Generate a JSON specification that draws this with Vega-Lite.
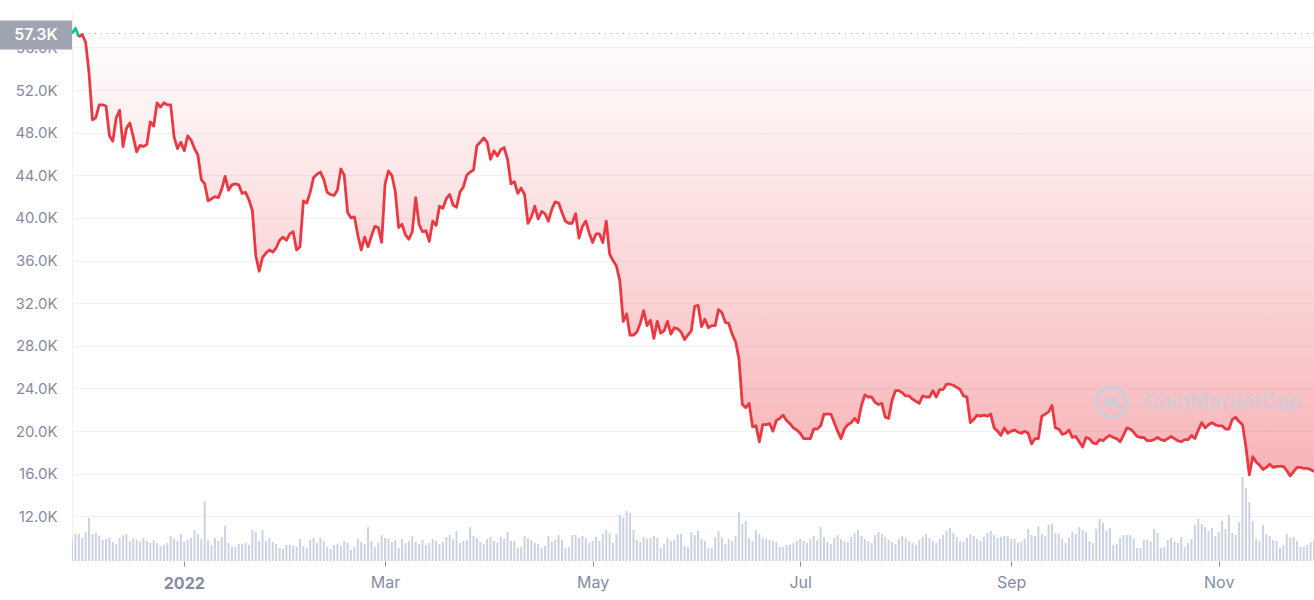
{
"$schema":"https://vega.github.io/schema/vega-lite/v6.json",
"width":1242,"height":551,
"autosize":{"type":"none"},
"padding":{"left":72,"top":10,"right":0,"bottom":39},
"background":"#ffffff",
"config":{"view":{"stroke":null},"font":"Inter"},
"data":{"values":[
{"t":"2021-11-29","p":57300,"v":23},{"t":"2021-11-30","p":57800,"v":27},
{"t":"2021-12-01","p":57000,"v":27},{"t":"2021-12-02","p":57200,"v":23},{"t":"2021-12-03","p":56500,"v":29},{"t":"2021-12-04","p":53600,"v":43},{"t":"2021-12-05","p":49200,"v":27},{"t":"2021-12-06","p":49400,"v":28},{"t":"2021-12-07","p":50600,"v":25},{"t":"2021-12-08","p":50600,"v":21},{"t":"2021-12-09","p":50500,"v":22},{"t":"2021-12-10","p":47700,"v":23},{"t":"2021-12-11","p":47200,"v":19},{"t":"2021-12-12","p":49400,"v":17},{"t":"2021-12-13","p":50100,"v":23},{"t":"2021-12-14","p":46700,"v":26},{"t":"2021-12-15","p":48400,"v":27},{"t":"2021-12-16","p":48900,"v":20},{"t":"2021-12-17","p":47600,"v":23},{"t":"2021-12-18","p":46200,"v":21},{"t":"2021-12-19","p":46800,"v":19},{"t":"2021-12-20","p":46700,"v":23},{"t":"2021-12-21","p":46900,"v":20},{"t":"2021-12-22","p":49000,"v":18},{"t":"2021-12-23","p":48600,"v":21},{"t":"2021-12-24","p":50800,"v":18},{"t":"2021-12-25","p":50400,"v":15},{"t":"2021-12-26","p":50800,"v":16},{"t":"2021-12-27","p":50600,"v":18},{"t":"2021-12-28","p":50600,"v":25},{"t":"2021-12-29","p":47600,"v":22},{"t":"2021-12-30","p":46500,"v":20},{"t":"2021-12-31","p":47100,"v":27},
{"t":"2022-01-01","p":46300,"v":19},{"t":"2022-01-02","p":47700,"v":21},{"t":"2022-01-03","p":47300,"v":23},{"t":"2022-01-04","p":46500,"v":31},{"t":"2022-01-05","p":45900,"v":27},{"t":"2022-01-06","p":43600,"v":22},{"t":"2022-01-07","p":43200,"v":60},{"t":"2022-01-08","p":41600,"v":21},{"t":"2022-01-09","p":41800,"v":16},{"t":"2022-01-10","p":42000,"v":23},{"t":"2022-01-11","p":41900,"v":20},{"t":"2022-01-12","p":42700,"v":24},{"t":"2022-01-13","p":43900,"v":35},{"t":"2022-01-14","p":42600,"v":18},{"t":"2022-01-15","p":43100,"v":14},{"t":"2022-01-16","p":43200,"v":14},{"t":"2022-01-17","p":43100,"v":17},{"t":"2022-01-18","p":42300,"v":17},{"t":"2022-01-19","p":42400,"v":18},{"t":"2022-01-20","p":41700,"v":16},{"t":"2022-01-21","p":40700,"v":31},{"t":"2022-01-22","p":36500,"v":29},{"t":"2022-01-23","p":35000,"v":20},{"t":"2022-01-24","p":36300,"v":31},{"t":"2022-01-25","p":36700,"v":20},{"t":"2022-01-26","p":37000,"v":23},{"t":"2022-01-27","p":36800,"v":19},{"t":"2022-01-28","p":37200,"v":17},{"t":"2022-01-29","p":37900,"v":13},{"t":"2022-01-30","p":38200,"v":12},{"t":"2022-01-31","p":37900,"v":16},
{"t":"2022-02-01","p":38500,"v":16},{"t":"2022-02-02","p":38700,"v":15},{"t":"2022-02-03","p":37000,"v":14},{"t":"2022-02-04","p":37300,"v":22},{"t":"2022-02-05","p":41600,"v":15},{"t":"2022-02-06","p":41400,"v":13},{"t":"2022-02-07","p":42400,"v":21},{"t":"2022-02-08","p":43800,"v":23},{"t":"2022-02-09","p":44100,"v":18},{"t":"2022-02-10","p":44300,"v":23},{"t":"2022-02-11","p":43600,"v":20},{"t":"2022-02-12","p":42400,"v":14},{"t":"2022-02-13","p":42200,"v":12},{"t":"2022-02-14","p":42100,"v":16},{"t":"2022-02-15","p":42600,"v":17},{"t":"2022-02-16","p":44600,"v":15},{"t":"2022-02-17","p":44000,"v":20},{"t":"2022-02-18","p":40500,"v":18},{"t":"2022-02-19","p":40000,"v":11},{"t":"2022-02-20","p":40100,"v":14},{"t":"2022-02-21","p":38400,"v":22},{"t":"2022-02-22","p":37000,"v":19},{"t":"2022-02-23","p":38200,"v":17},{"t":"2022-02-24","p":37300,"v":34},{"t":"2022-02-25","p":38300,"v":20},{"t":"2022-02-26","p":39200,"v":14},{"t":"2022-02-27","p":39100,"v":18},{"t":"2022-02-28","p":37700,"v":26},
{"t":"2022-03-01","p":43200,"v":23},{"t":"2022-03-02","p":44400,"v":22},{"t":"2022-03-03","p":44000,"v":19},{"t":"2022-03-04","p":42500,"v":21},{"t":"2022-03-05","p":39100,"v":13},{"t":"2022-03-06","p":39400,"v":22},{"t":"2022-03-07","p":38400,"v":18},{"t":"2022-03-08","p":38000,"v":20},{"t":"2022-03-09","p":38700,"v":25},{"t":"2022-03-10","p":41900,"v":19},{"t":"2022-03-11","p":39400,"v":17},{"t":"2022-03-12","p":38700,"v":21},{"t":"2022-03-13","p":38800,"v":16},{"t":"2022-03-14","p":37800,"v":18},{"t":"2022-03-15","p":39700,"v":22},{"t":"2022-03-16","p":39300,"v":20},{"t":"2022-03-17","p":41100,"v":17},{"t":"2022-03-18","p":40900,"v":19},{"t":"2022-03-19","p":41800,"v":24},{"t":"2022-03-20","p":42200,"v":26},{"t":"2022-03-21","p":41200,"v":22},{"t":"2022-03-22","p":41000,"v":30},{"t":"2022-03-23","p":42400,"v":18},{"t":"2022-03-24","p":42900,"v":20},{"t":"2022-03-25","p":44000,"v":21},{"t":"2022-03-26","p":44300,"v":34},{"t":"2022-03-27","p":44500,"v":25},{"t":"2022-03-28","p":46800,"v":23},{"t":"2022-03-29","p":47100,"v":19},{"t":"2022-03-30","p":47500,"v":17},{"t":"2022-03-31","p":47100,"v":22},
{"t":"2022-04-01","p":45500,"v":24},{"t":"2022-04-02","p":46300,"v":20},{"t":"2022-04-03","p":45800,"v":18},{"t":"2022-04-04","p":46400,"v":24},{"t":"2022-04-05","p":46600,"v":22},{"t":"2022-04-06","p":45500,"v":29},{"t":"2022-04-07","p":43200,"v":20},{"t":"2022-04-08","p":43400,"v":20},{"t":"2022-04-09","p":42300,"v":13},{"t":"2022-04-10","p":42800,"v":14},{"t":"2022-04-11","p":42200,"v":25},{"t":"2022-04-12","p":39500,"v":23},{"t":"2022-04-13","p":40100,"v":21},{"t":"2022-04-14","p":41100,"v":18},{"t":"2022-04-15","p":39900,"v":17},{"t":"2022-04-16","p":40600,"v":13},{"t":"2022-04-17","p":40400,"v":15},{"t":"2022-04-18","p":39700,"v":25},{"t":"2022-04-19","p":40800,"v":19},{"t":"2022-04-20","p":41500,"v":21},{"t":"2022-04-21","p":41400,"v":26},{"t":"2022-04-22","p":40500,"v":21},{"t":"2022-04-23","p":39700,"v":13},{"t":"2022-04-24","p":39500,"v":14},{"t":"2022-04-25","p":39500,"v":26},{"t":"2022-04-26","p":40400,"v":26},{"t":"2022-04-27","p":38100,"v":23},{"t":"2022-04-28","p":39200,"v":25},{"t":"2022-04-29","p":39700,"v":23},{"t":"2022-04-30","p":38600,"v":18},
{"t":"2022-05-01","p":37700,"v":20},{"t":"2022-05-02","p":38500,"v":24},{"t":"2022-05-03","p":38500,"v":20},{"t":"2022-05-04","p":37700,"v":27},{"t":"2022-05-05","p":39700,"v":31},{"t":"2022-05-06","p":36600,"v":28},{"t":"2022-05-07","p":36000,"v":18},{"t":"2022-05-08","p":35500,"v":27},{"t":"2022-05-09","p":34100,"v":46},{"t":"2022-05-10","p":30300,"v":43},{"t":"2022-05-11","p":31000,"v":50},{"t":"2022-05-12","p":29000,"v":48},{"t":"2022-05-13","p":29000,"v":31},{"t":"2022-05-14","p":29300,"v":21},{"t":"2022-05-15","p":30100,"v":19},{"t":"2022-05-16","p":31300,"v":24},{"t":"2022-05-17","p":29900,"v":22},{"t":"2022-05-18","p":30400,"v":23},{"t":"2022-05-19","p":28700,"v":25},{"t":"2022-05-20","p":30300,"v":23},{"t":"2022-05-21","p":29200,"v":13},{"t":"2022-05-22","p":29400,"v":17},{"t":"2022-05-23","p":30300,"v":23},{"t":"2022-05-24","p":29100,"v":20},{"t":"2022-05-25","p":29700,"v":21},{"t":"2022-05-26","p":29600,"v":27},{"t":"2022-05-27","p":29300,"v":27},{"t":"2022-05-28","p":28600,"v":15},{"t":"2022-05-29","p":29000,"v":14},{"t":"2022-05-30","p":29400,"v":29},{"t":"2022-05-31","p":31700,"v":26},
{"t":"2022-06-01","p":31800,"v":30},{"t":"2022-06-02","p":29800,"v":22},{"t":"2022-06-03","p":30500,"v":20},{"t":"2022-06-04","p":29700,"v":13},{"t":"2022-06-05","p":29900,"v":13},{"t":"2022-06-06","p":29900,"v":24},{"t":"2022-06-07","p":31400,"v":30},{"t":"2022-06-08","p":31100,"v":23},{"t":"2022-06-09","p":30200,"v":17},{"t":"2022-06-10","p":30100,"v":22},{"t":"2022-06-11","p":29100,"v":20},{"t":"2022-06-12","p":28400,"v":25},{"t":"2022-06-13","p":26800,"v":49},{"t":"2022-06-14","p":22500,"v":37},{"t":"2022-06-15","p":22200,"v":40},{"t":"2022-06-16","p":22600,"v":23},{"t":"2022-06-17","p":20400,"v":20},{"t":"2022-06-18","p":20500,"v":31},{"t":"2022-06-19","p":19000,"v":27},{"t":"2022-06-20","p":20600,"v":23},{"t":"2022-06-21","p":20600,"v":22},{"t":"2022-06-22","p":20700,"v":21},{"t":"2022-06-23","p":20000,"v":20},{"t":"2022-06-24","p":21000,"v":19},{"t":"2022-06-25","p":21200,"v":14},{"t":"2022-06-26","p":21500,"v":14},{"t":"2022-06-27","p":21000,"v":16},{"t":"2022-06-28","p":20700,"v":16},{"t":"2022-06-29","p":20300,"v":18},{"t":"2022-06-30","p":20100,"v":20},
{"t":"2022-07-01","p":19800,"v":22},{"t":"2022-07-02","p":19300,"v":20},{"t":"2022-07-03","p":19300,"v":18},{"t":"2022-07-04","p":19300,"v":22},{"t":"2022-07-05","p":20200,"v":25},{"t":"2022-07-06","p":20200,"v":21},{"t":"2022-07-07","p":20500,"v":34},{"t":"2022-07-08","p":21600,"v":24},{"t":"2022-07-09","p":21600,"v":19},{"t":"2022-07-10","p":21600,"v":17},{"t":"2022-07-11","p":20800,"v":23},{"t":"2022-07-12","p":20000,"v":26},{"t":"2022-07-13","p":19300,"v":22},{"t":"2022-07-14","p":20200,"v":20},{"t":"2022-07-15","p":20600,"v":19},{"t":"2022-07-16","p":20800,"v":24},{"t":"2022-07-17","p":21200,"v":28},{"t":"2022-07-18","p":20800,"v":31},{"t":"2022-07-19","p":22400,"v":25},{"t":"2022-07-20","p":23400,"v":22},{"t":"2022-07-21","p":23200,"v":20},{"t":"2022-07-22","p":23200,"v":18},{"t":"2022-07-23","p":22700,"v":26},{"t":"2022-07-24","p":22500,"v":29},{"t":"2022-07-25","p":22600,"v":27},{"t":"2022-07-26","p":21300,"v":24},{"t":"2022-07-27","p":21200,"v":21},{"t":"2022-07-28","p":22900,"v":19},{"t":"2022-07-29","p":23800,"v":17},{"t":"2022-07-30","p":23800,"v":22},{"t":"2022-07-31","p":23600,"v":25},
{"t":"2022-08-01","p":23300,"v":23},{"t":"2022-08-02","p":23300,"v":20},{"t":"2022-08-03","p":23000,"v":18},{"t":"2022-08-04","p":22800,"v":16},{"t":"2022-08-05","p":22600,"v":21},{"t":"2022-08-06","p":23300,"v":24},{"t":"2022-08-07","p":23200,"v":27},{"t":"2022-08-08","p":23200,"v":23},{"t":"2022-08-09","p":23800,"v":20},{"t":"2022-08-10","p":23200,"v":18},{"t":"2022-08-11","p":23900,"v":22},{"t":"2022-08-12","p":23900,"v":26},{"t":"2022-08-13","p":24400,"v":30},{"t":"2022-08-14","p":24400,"v":33},{"t":"2022-08-15","p":24300,"v":28},{"t":"2022-08-16","p":24100,"v":24},{"t":"2022-08-17","p":23900,"v":20},{"t":"2022-08-18","p":23300,"v":19},{"t":"2022-08-19","p":23200,"v":23},{"t":"2022-08-20","p":20800,"v":27},{"t":"2022-08-21","p":21100,"v":25},{"t":"2022-08-22","p":21500,"v":22},{"t":"2022-08-23","p":21400,"v":20},{"t":"2022-08-24","p":21500,"v":24},{"t":"2022-08-25","p":21400,"v":28},{"t":"2022-08-26","p":21600,"v":30},{"t":"2022-08-27","p":20300,"v":26},{"t":"2022-08-28","p":20000,"v":23},{"t":"2022-08-29","p":19600,"v":24},{"t":"2022-08-30","p":20300,"v":25},{"t":"2022-08-31","p":19800,"v":25},
{"t":"2022-09-01","p":20000,"v":22},{"t":"2022-09-02","p":20100,"v":22},{"t":"2022-09-03","p":19900,"v":18},{"t":"2022-09-04","p":19800,"v":19},{"t":"2022-09-05","p":20000,"v":22},{"t":"2022-09-06","p":19800,"v":32},{"t":"2022-09-07","p":18800,"v":26},{"t":"2022-09-08","p":19300,"v":25},{"t":"2022-09-09","p":19300,"v":35},{"t":"2022-09-10","p":21400,"v":27},{"t":"2022-09-11","p":21600,"v":25},{"t":"2022-09-12","p":21800,"v":36},{"t":"2022-09-13","p":22400,"v":37},{"t":"2022-09-14","p":20300,"v":28},{"t":"2022-09-15","p":20200,"v":27},{"t":"2022-09-16","p":19700,"v":22},{"t":"2022-09-17","p":19800,"v":18},{"t":"2022-09-18","p":20100,"v":23},{"t":"2022-09-19","p":19400,"v":29},{"t":"2022-09-20","p":19500,"v":27},{"t":"2022-09-21","p":19000,"v":34},{"t":"2022-09-22","p":18500,"v":31},{"t":"2022-09-23","p":19400,"v":29},{"t":"2022-09-24","p":19300,"v":20},{"t":"2022-09-25","p":18900,"v":18},{"t":"2022-09-26","p":18800,"v":32},{"t":"2022-09-27","p":19200,"v":42},{"t":"2022-09-28","p":19100,"v":38},{"t":"2022-09-29","p":19400,"v":30},{"t":"2022-09-30","p":19600,"v":33},
{"t":"2022-10-01","p":19400,"v":16},{"t":"2022-10-02","p":19300,"v":17},{"t":"2022-10-03","p":19000,"v":23},{"t":"2022-10-04","p":19600,"v":26},{"t":"2022-10-05","p":20300,"v":26},{"t":"2022-10-06","p":20200,"v":26},{"t":"2022-10-07","p":19900,"v":22},{"t":"2022-10-08","p":19500,"v":13},{"t":"2022-10-09","p":19400,"v":13},{"t":"2022-10-10","p":19400,"v":21},{"t":"2022-10-11","p":19100,"v":21},{"t":"2022-10-12","p":19100,"v":19},{"t":"2022-10-13","p":19200,"v":32},{"t":"2022-10-14","p":19400,"v":28},{"t":"2022-10-15","p":19200,"v":13},{"t":"2022-10-16","p":19100,"v":14},{"t":"2022-10-17","p":19300,"v":21},{"t":"2022-10-18","p":19500,"v":23},{"t":"2022-10-19","p":19300,"v":19},{"t":"2022-10-20","p":19100,"v":18},{"t":"2022-10-21","p":19000,"v":24},{"t":"2022-10-22","p":19200,"v":14},{"t":"2022-10-23","p":19200,"v":18},{"t":"2022-10-24","p":19600,"v":22},{"t":"2022-10-25","p":19300,"v":36},{"t":"2022-10-26","p":20100,"v":42},{"t":"2022-10-27","p":20800,"v":37},{"t":"2022-10-28","p":20300,"v":34},{"t":"2022-10-29","p":20600,"v":30},{"t":"2022-10-30","p":20800,"v":33},{"t":"2022-10-31","p":20600,"v":25},
{"t":"2022-11-01","p":20500,"v":29},{"t":"2022-11-02","p":20500,"v":40},{"t":"2022-11-03","p":20200,"v":32},{"t":"2022-11-04","p":20200,"v":46},{"t":"2022-11-05","p":21100,"v":28},{"t":"2022-11-06","p":21300,"v":26},{"t":"2022-11-07","p":20900,"v":39},{"t":"2022-11-08","p":20600,"v":84},{"t":"2022-11-09","p":18500,"v":73},{"t":"2022-11-10","p":15900,"v":59},{"t":"2022-11-11","p":17600,"v":40},{"t":"2022-11-12","p":17100,"v":22},{"t":"2022-11-13","p":16800,"v":20},{"t":"2022-11-14","p":16400,"v":36},{"t":"2022-11-15","p":16600,"v":27},{"t":"2022-11-16","p":16900,"v":25},{"t":"2022-11-17","p":16600,"v":21},{"t":"2022-11-18","p":16700,"v":20},{"t":"2022-11-19","p":16700,"v":13},{"t":"2022-11-20","p":16700,"v":16},{"t":"2022-11-21","p":16300,"v":27},{"t":"2022-11-22","p":15800,"v":23},{"t":"2022-11-23","p":16200,"v":24},{"t":"2022-11-24","p":16600,"v":20},{"t":"2022-11-25","p":16600,"v":14},{"t":"2022-11-26","p":16500,"v":14},{"t":"2022-11-27","p":16500,"v":16},{"t":"2022-11-28","p":16400,"v":19},{"t":"2022-11-29","p":16200,"v":20}
]},
"layer":[
{"mark":{"type":"area","line":false,"fill":{"x1":0,"y1":0,"x2":0,"y2":1,"gradient":"linear","stops":[{"offset":0,"color":"rgba(234,57,67,0.0)"},{"offset":1,"color":"rgba(234,57,67,0.38)"}]}},
 "encoding":{
  "x":{"field":"t","type":"temporal","scale":{"type":"utc","padding":0,"domain":[1638144000000,1669680000000]},
   "axis":{"values":[1640995200000,1646092800000,1651363200000,1656633600000,1661990400000,1667260800000],
    "labelExpr":"utcmonth(datum.value)==0 ? '' : utcFormat(datum.value,'%b')",
    "title":null,"grid":false,"domain":false,"tickColor":"#858ca2","tickSize":5,
    "labelColor":"#858ca2","labelFontSize":16,"labelPadding":8,"labelFont":"Inter"}},
  "y":{"field":"p","type":"quantitative","scale":{"domain":[7816,59505],"nice":false,"zero":false},
   "axis":{"values":[12000,16000,20000,24000,28000,32000,36000,40000,44000,48000,52000,56000],
    "labelExpr":"format(datum.value/1000,'.1f')+'K'","title":null,"ticks":false,"domain":true,"domainColor":"#eff2f5",
    "grid":true,"gridColor":"#eff2f5","gridWidth":1,"labelColor":"#858ca2","labelFontSize":15,"labelPadding":15,"labelFont":"Inter"}},
  "y2":{"datum":57300}}},
{"mark":{"type":"bar","width":2,"color":"#cbd3e1","clip":true},
 "encoding":{
  "x":{"field":"t","type":"temporal"},
  "y":{"field":"v","type":"quantitative","scale":{"domain":[0,551]},"axis":null}}},
{"mark":{"type":"rule","color":"#a6acbb","strokeDash":[1,5],"strokeWidth":1},
 "data":{"values":[{}]},
 "encoding":{"y":{"datum":57300,"scale":{"domain":[7816,59505],"nice":false,"zero":false},"axis":null}}},
{"transform":[{"filter":"time(datum.t) <= utc(2021,11,1)"}],
 "mark":{"type":"line","color":"#16c784","strokeWidth":2.8,"strokeJoin":"round"},
 "encoding":{"x":{"field":"t","type":"temporal"},"y":{"field":"p","type":"quantitative","scale":{"domain":[7816,59505],"nice":false,"zero":false},"axis":null}}},
{"transform":[{"filter":"time(datum.t) >= utc(2021,11,1)"}],
 "mark":{"type":"line","color":"#ea3943","strokeWidth":2.8,"strokeJoin":"round"},
 "encoding":{"x":{"field":"t","type":"temporal"},"y":{"field":"p","type":"quantitative","scale":{"domain":[7816,59505],"nice":false,"zero":false},"axis":null}}},
{"data":{"values":[{}]},
 "mark":{"type":"point","shape":"M-1,-0.4H1V0.4H-1Z","size":5184,"filled":true,"color":"#9ea4b0","opacity":1,"strokeWidth":0,"xOffset":-36,"yOffset":1.5},
 "encoding":{"x":{"datum":1638144000000,"type":"temporal"},"y":{"datum":57300,"scale":{"domain":[7816,59505],"nice":false,"zero":false},"axis":null}}},
{"data":{"values":[{"label":"57.3K"}]},
 "mark":{"type":"text","color":"#ffffff","fontSize":16,"fontWeight":600,"align":"center","baseline":"middle","dx":-36,"dy":1.5,"font":"Inter"},
 "encoding":{"x":{"datum":1638144000000,"type":"temporal"},"y":{"datum":57300,"scale":{"domain":[7816,59505],"nice":false,"zero":false},"axis":null},"text":{"field":"label"}}},
{"data":{"values":[{"label":"2022"}]},
 "mark":{"type":"text","color":"#858ca2","fontSize":16,"fontWeight":"bold","align":"center","baseline":"alphabetic","font":"Inter","clip":false},
 "encoding":{"x":{"datum":1640995200000,"type":"temporal"},"y":{"datum":5143,"scale":{"domain":[7816,59505],"nice":false,"zero":false},"axis":null},"text":{"field":"label"}}},
{"data":{"values":[{"label":"CoinMarketCap"}]},
 "mark":{"type":"text","color":"#c8cfdf","opacity":0.75,"fontSize":21,"fontWeight":600,"align":"center","baseline":"alphabetic","font":"Inter"},
 "encoding":{"x":{"datum":1667347200000,"type":"temporal"},"y":{"datum":22080,"scale":{"domain":[7816,59505],"nice":false,"zero":false},"axis":null},"text":{"field":"label"}}},
{"data":{"values":[{}]},
 "mark":{"type":"point","shape":"circle","size":900,"filled":false,"color":"#c8cfdf","opacity":0.75,"strokeWidth":4},
 "encoding":{"x":{"datum":1664539200000,"type":"temporal"},"y":{"datum":22710,"scale":{"domain":[7816,59505],"nice":false,"zero":false},"axis":null}}},
{"data":{"values":[{}]},
 "mark":{"type":"point","shape":"M-0.55,0.35L-0.32,-0.3L-0.08,0.3L0.16,-0.3L0.36,0.22Q0.45,0.4 0.62,0.28","size":900,"filled":false,"color":"#c8cfdf","opacity":0.75,"strokeWidth":3.5},
 "encoding":{"x":{"datum":1664539200000,"type":"temporal"},"y":{"datum":22710,"scale":{"domain":[7816,59505],"nice":false,"zero":false},"axis":null}}}
],
"resolve":{"scale":{"y":"independent"}}
}
